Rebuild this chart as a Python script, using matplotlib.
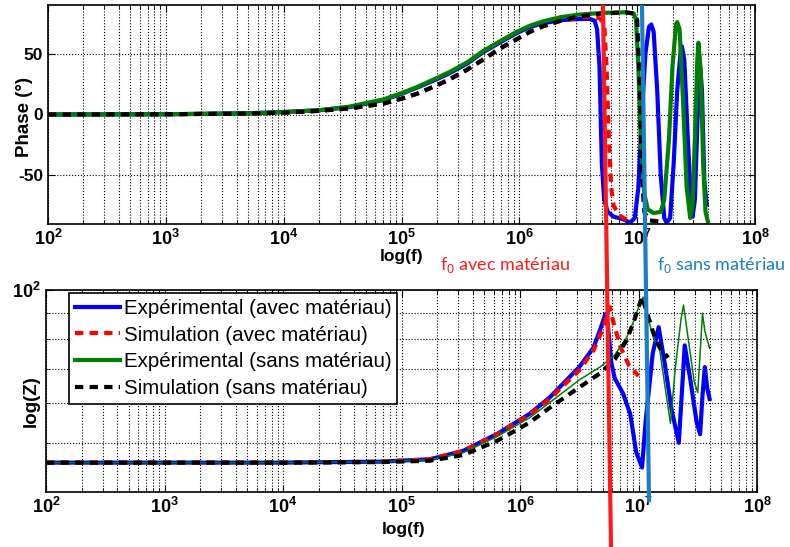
import matplotlib
matplotlib.use("Agg")
import matplotlib.pyplot as plt
from matplotlib.lines import Line2D
import numpy as np

plt.rcParams['font.family'] = ['Liberation Sans', 'DejaVu Sans']
plt.rcParams['mathtext.fontset'] = 'custom'
plt.rcParams['mathtext.rm'] = 'Liberation Sans'
plt.rcParams['mathtext.bf'] = 'Liberation Sans:bold'

# ---------------- data (log10 of frequency) ----------------
# Phase, experimental with material (blue)
ph_exp_avec_lf = [2.0, 3.0, 3.7, 4.0, 4.3, 4.56, 4.85, 5.0, 5.13, 5.3, 5.41, 5.56, 5.69, 5.85, 5.98,
                  6.09, 6.2, 6.35, 6.5, 6.6, 6.64, 6.66, 6.68, 6.69, 6.70, 6.72, 6.75, 6.8, 6.88, 6.94,
                  6.98, 7.01, 7.04, 7.07, 7.10, 7.12, 7.14, 7.17, 7.20, 7.23, 7.25, 7.28, 7.31, 7.34,
                  7.37, 7.38, 7.40, 7.43, 7.46, 7.47, 7.49, 7.51, 7.53, 7.55, 7.57, 7.59]
ph_exp_avec = [0, 0.2, 1, 2, 3.5, 6, 12, 17, 22, 29, 34, 42, 51, 60, 67,
               72, 75, 77.5, 78.5, 78.5, 77, 70, 40, 0, -40, -70, -80, -84, -86, -89,
               -85, -60, 0, 50, 72, 74, 68, 20, -50, -85, -89, -85, -40, 20,
               53, 56, 45, -20, -78, -84, -70, -10, 45, 20, -55, -74]

# Phase, simulation with material (red dashed)
ph_sim_avec_lf = [2.0, 3.0, 3.7, 4.0, 4.3, 4.56, 4.85, 5.0, 5.13, 5.3, 5.41, 5.56, 5.69, 5.85, 5.98,
                  6.09, 6.2, 6.35, 6.5, 6.6, 6.68, 6.72, 6.74, 6.76, 6.78, 6.8, 6.85, 6.9, 6.96]
ph_sim_avec = [0, 0.2, 0.8, 1.5, 3, 5, 9, 13, 17, 24, 29, 37, 45, 55, 62,
               68, 72.5, 77, 79.5, 80.5, 79, 75, 40, -20, -60, -75, -83, -86, -88]

# Phase, experimental without material (green)
ph_exp_sans_lf = [2.0, 3.0, 3.7, 4.0, 4.3, 4.56, 4.85, 5.0, 5.13, 5.3, 5.41, 5.56, 5.69, 5.85, 5.98,
                  6.09, 6.2, 6.35, 6.5, 6.7, 6.9, 6.97, 6.99, 7.01, 7.03, 7.06, 7.09, 7.14, 7.2,
                  7.23, 7.27, 7.3, 7.33, 7.34, 7.36, 7.39, 7.42, 7.45, 7.47, 7.49, 7.51, 7.52,
                  7.54, 7.56, 7.58, 7.60]
ph_exp_sans = [0, 0.2, 1, 2, 3.5, 6.5, 12.5, 17.5, 22.5, 30, 35, 43, 52, 61, 68,
               73, 76.5, 80, 82, 83.5, 84, 83, 78, 40, -20, -65, -78, -81, -80,
               -70, -20, 40, 74, 76, 70, 10, -60, -85, -75, -20, 45, 59,
               35, -40, -80, -88]

# Phase, simulation without material (black dashed)
ph_sim_sans_lf = [2.0, 3.0, 3.7, 4.0, 4.3, 4.56, 4.85, 5.0, 5.13, 5.3, 5.41, 5.56, 5.69, 5.85, 5.98,
                  6.09, 6.2, 6.35, 6.5, 6.7, 6.9, 6.97, 7.0, 7.02, 7.04, 7.06, 7.1, 7.2, 7.23]
ph_sim_sans = [0, 0.2, 0.8, 1.5, 3, 5, 9, 13, 17, 24, 29, 37, 45, 55, 62,
               68, 72.5, 77, 80.5, 83, 84, 83, 78, 30, -50, -80, -87, -88, -88]

# Impedance, experimental with material (blue)
z_exp_avec_lf = [2.0, 4.0, 4.82, 5.24, 5.52, 5.81, 6.08, 6.25, 6.5, 6.62, 6.68, 6.72, 6.74, 6.77,
                 6.8, 6.87, 6.93, 6.98, 7.03, 7.06, 7.12, 7.17, 7.22, 7.28, 7.34, 7.37, 7.39,
                 7.44, 7.49, 7.52, 7.54, 7.56, 7.58, 7.60]
z_exp_avec = [45.7, 45.7, 45.9, 46.4, 48.2, 52.1, 57, 61.4, 70.5, 77, 84, 89.6, 86, 72,
              67, 62.5, 57, 48, 44.7, 55, 75, 84.5, 72, 58, 50, 65, 77.8,
              66, 55, 52, 62, 70.5, 64, 61]

# Impedance, simulation with material (red dashed)
z_sim_avec_lf = [2.0, 4.0, 4.82, 5.24, 5.52, 5.81, 6.08, 6.25, 6.5, 6.62, 6.7, 6.74, 6.76, 6.79,
                 6.85, 6.92, 7.0]
z_sim_avec = [45.7, 45.7, 45.9, 46.4, 48.2, 52.0, 56.8, 61, 69.5, 76, 84, 90, 92.5, 86,
              77, 71, 67.7]

# Impedance, experimental without material (green)
z_exp_sans_lf = [2.0, 4.0, 4.82, 5.24, 5.52, 5.81, 6.08, 6.25, 6.5, 6.675, 6.8, 6.9, 6.97, 7.01,
                 7.04, 7.08, 7.13, 7.18, 7.23, 7.27, 7.31, 7.36, 7.38, 7.42, 7.47, 7.50, 7.52,
                 7.54, 7.56, 7.60]
z_exp_sans = [45.7, 45.7, 45.9, 46.3, 47.8, 51.5, 56, 60, 66.5, 70.5, 74.5, 80.7, 88, 94,
              96.8, 88, 80, 76, 63, 54.6, 70, 88, 93.4, 80, 66, 62.8, 75,
              90, 83, 76.8]

# Impedance, simulation without material (black dashed)
z_sim_sans_lf = [2.0, 4.0, 4.82, 5.24, 5.52, 5.81, 6.08, 6.25, 6.5, 6.675, 6.8, 6.9, 6.97, 7.03,
                 7.06, 7.12, 7.18, 7.25]
z_sim_sans = [45.7, 45.7, 45.8, 46.1, 47.3, 50.5, 54.8, 58.6, 64.3, 68.5, 73, 79.6, 88, 97,
              92, 83, 77, 73.6]

x_ticks = [1e2, 1e3, 1e4, 1e5, 1e6, 1e7, 1e8]
x_tick_labels = [r'$\mathbf{10^{2}}$', r'$\mathbf{10^{3}}$', r'$\mathbf{10^{4}}$', r'$\mathbf{10^{5}}$',
                 r'$\mathbf{10^{6}}$', r'$\mathbf{10^{7}}$', r'$\mathbf{10^{8}}$']
phase_ticks = [-50, 0, 50]
phase_tick_labels = ['-50', '0', '50']
z_ticks = [100]
z_tick_labels = [r'$\mathbf{10^{2}}$']
legend_labels = ['Expérimental (avec matériau)', 'Simulation (avec matériau)',
                 'Expérimental (sans matériau)', 'Simulation (sans matériau)']

C_BLUE = '#0000ff'
C_RED = '#ff0000'
C_GREEN = '#008000'
C_BLACK = '#000000'
C_F0_RED = '#ff1a1a'
C_F0_BLUE = '#1b7ec8'

fig = plt.figure(figsize=(7.9, 5.47), dpi=100)
ax1 = fig.add_axes([48/790, 1-224/547, (755-48)/790, (224-5)/547])
ax2 = fig.add_axes([46/790, 1-492/547, (757-46)/790, (492-290)/547])


def to_f(lf):
    return 10.0 ** np.asarray(lf)


def style(ax):
    ax.set_xscale('log')
    ax.set_xlim(1e2, 1e8)
    ax.grid(True, which='major', linestyle=':', color='black', linewidth=0.8)
    ax.grid(True, which='minor', axis='x', linestyle=':', color='black', linewidth=0.8)
    ax.tick_params(which='both', direction='in', top=True, right=True, labelsize=12.5)
    ax.tick_params(which='major', length=5)
    ax.tick_params(which='minor', length=3)
    for s in ax.spines.values():
        s.set_linewidth(1.2)
    ax.set_xticks(x_ticks)
    ax.set_xticklabels(x_tick_labels, fontsize=13, fontweight='bold')


# Top: phase
ax1.plot(to_f(ph_exp_avec_lf), ph_exp_avec, color=C_BLUE, lw=3)
ax1.plot(to_f(ph_sim_avec_lf), ph_sim_avec, color=C_RED, lw=3, ls=(0, (2, 1.5)))
ax1.plot(to_f(ph_exp_sans_lf), ph_exp_sans, color=C_GREEN, lw=3)
ax1.plot(to_f(ph_sim_sans_lf), ph_sim_sans, color=C_BLACK, lw=3, ls=(0, (2, 1.5)))
style(ax1)
ax1.set_ylim(-90, 90)
ax1.set_yticks(phase_ticks)
ax1.set_yticklabels(phase_tick_labels, fontsize=12.5, fontweight='bold')
ax1.set_ylabel('Phase (°)', fontsize=13.5, fontweight='bold')
ax1.yaxis.set_label_coords(-0.021, 0.49)
ax1.set_xlabel('log(f)', fontsize=12.5, fontweight='bold')
ax1.xaxis.set_label_coords(0.5, -0.115)

# Bottom: impedance
ax2.plot(to_f(z_exp_avec_lf), z_exp_avec, color=C_BLUE, lw=3)
ax2.plot(to_f(z_sim_avec_lf), z_sim_avec, color=C_RED, lw=3, ls=(0, (2, 1.5)))
ax2.plot(to_f(z_exp_sans_lf), z_exp_sans, color=C_GREEN, lw=1.1)
ax2.plot(to_f(z_sim_sans_lf), z_sim_sans, color=C_BLACK, lw=3, ls=(0, (2, 1.5)))
style(ax2)
ax2.set_yscale('log')
ax2.set_ylim(40, 100)
ax2.set_yticks(z_ticks)
ax2.set_yticklabels(z_tick_labels, fontsize=13, fontweight='bold')
ax2.yaxis.set_minor_locator(matplotlib.ticker.FixedLocator([50, 60, 70, 80, 90]))
ax2.yaxis.set_minor_formatter(matplotlib.ticker.NullFormatter())
ax2.grid(True, which='minor', axis='y', linestyle=':', color='black', linewidth=0.8)
ax2.set_ylabel('log(Z)', fontsize=13.5, fontweight='bold')
ax2.yaxis.set_label_coords(-0.009, 0.45)
ax2.set_xlabel('log(f)', fontsize=12.5, fontweight='bold')
ax2.xaxis.set_label_coords(0.503, -0.15)

leg_handles = [Line2D([], [], color=C_BLUE, lw=3),
               Line2D([], [], color=C_RED, lw=3, ls=(0, (2, 1.5))),
               Line2D([], [], color=C_GREEN, lw=3),
               Line2D([], [], color=C_BLACK, lw=3, ls=(0, (2, 1.5)))]
leg = ax2.legend(leg_handles, legend_labels, loc='upper left', bbox_to_anchor=(0.032, 0.985),
                 fontsize=14.8, frameon=True, fancybox=False, framealpha=1,
                 edgecolor='black', handlelength=2.2, handletextpad=0.2,
                 borderpad=0.28, labelspacing=0.38, borderaxespad=0.0)
leg.get_frame().set_linewidth(1.2)

# Resonance-frequency marker lines across both panels (figure coordinates)
fig.add_artist(Line2D([603/790, 611/790], [1-7/547, 0.0], transform=fig.transFigure,
                      color=C_F0_RED, lw=3, zorder=10))
fig.add_artist(Line2D([642/790, 649/790], [1-7/547, 1-500/547], transform=fig.transFigure,
                      color=C_F0_BLUE, lw=3, zorder=10))
fig.text(440/790, 1-265/547, r'f$_0$ avec matériau', color=C_F0_RED, fontsize=13,
         family='Lato', va='center', ha='left')
fig.text(657/790, 1-265/547, r'f$_0$ sans matériau', color=C_F0_BLUE, fontsize=13,
         family='Lato', va='center', ha='left')

fig.savefig('out.png', dpi=100)
